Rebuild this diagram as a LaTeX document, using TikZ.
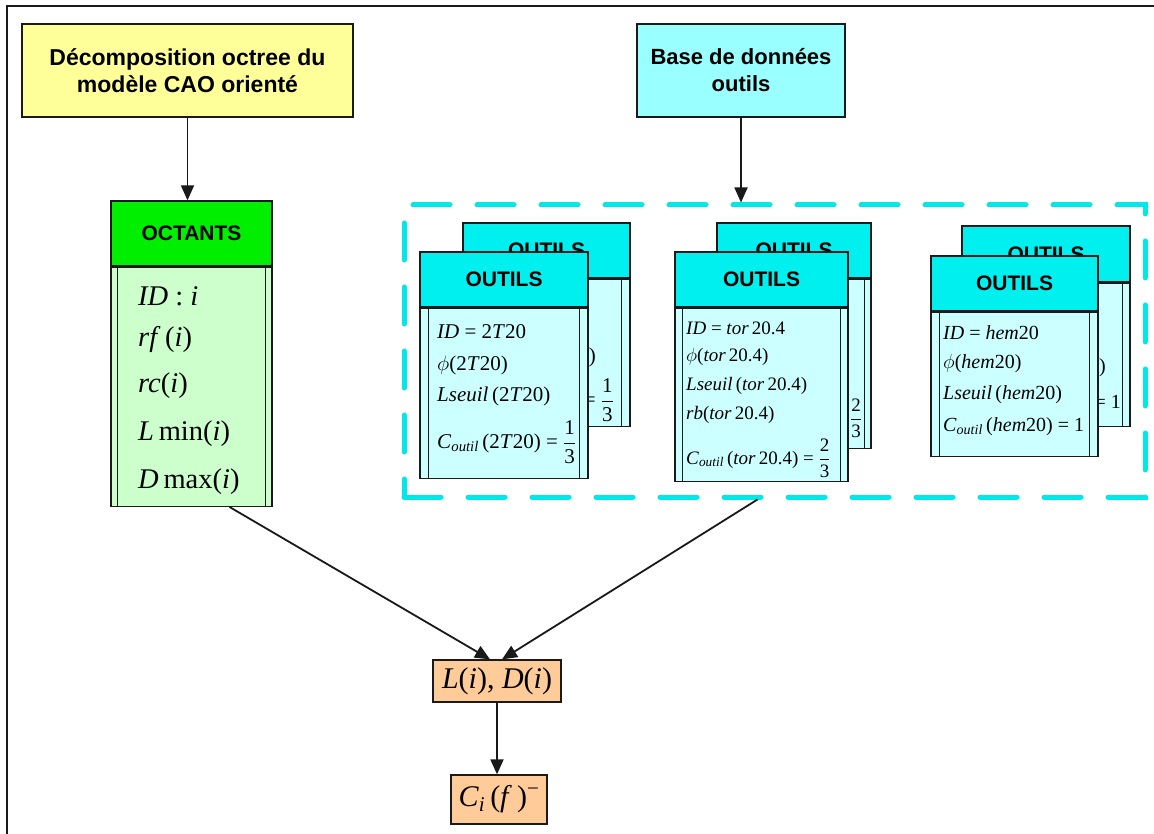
\RequirePackage{fix-cm}
\documentclass[tikz,border=0pt]{standalone}
\usepackage{amsmath}
\usepackage{fontspec}
\newfontfamily\hv{Liberation Sans}
\newfontfamily\tms{Liberation Serif}
\usetikzlibrary{arrows.meta,calc}
\definecolor{yel}{HTML}{FFFF99}
\definecolor{cyb}{HTML}{99FFFF}
\definecolor{octg}{HTML}{00EE00}
\definecolor{octl}{HTML}{CCFFCC}
\definecolor{cyh}{HTML}{00F0F0}
\definecolor{cyl}{HTML}{CCFFFF}
\definecolor{cyd}{HTML}{00E8E8}
\definecolor{org}{HTML}{FFCC99}
\definecolor{bdc}{HTML}{1A1A1A}
\newcommand{\iv}[1]{\textit{#1}}
\newcommand{\fr}[2]{$\dfrac{\text{#1}}{\text{#2}}$}
\newcommand{\sub}[1]{\textsubscript{\itshape #1}}
\newcommand{\mkoutil}[7]{%
  \node[bx,fill=cyh,minimum width=#4pt,minimum height=#5pt,hd] (#1h) at (#2,#3) {OUTILS};
  \node[bx,fill=cyl,minimum width=#4pt,minimum height=#6pt,anchor=north] (#1b) at (#1h.south) {};
  \draw[bdr] ([xshift=#7pt]#1b.north west) -- ([xshift=#7pt]#1b.south west);
  \draw[bdr] ([xshift=-#7pt]#1b.north east) -- ([xshift=-#7pt]#1b.south east);
}
\begin{document}
\begin{tikzpicture}[x=1pt,y=-1pt,
  bx/.style={draw=bdc,line width=1.3pt,inner sep=0pt,rectangle},
  bdr/.style={draw=bdc,line width=1.3pt},
  arr/.style={draw=black!90,line width=1.8pt,-{Triangle[length=15pt,width=13pt]}},
  ttl/.style={font=\hv\bfseries\fontsize{23}{27}\selectfont,align=center},
  ttlb/.style={font=\hv\bfseries\fontsize{22}{27}\selectfont,align=center},
  hd/.style={font=\hv\bfseries\fontsize{21}{24}\selectfont},
  mA/.style={font=\tms\fontsize{28.5}{32}\selectfont,anchor=west,inner sep=0pt},
  mB/.style={font=\tms\fontsize{21}{24}\selectfont,anchor=west,inner sep=0pt},
  mC/.style={font=\tms\fontsize{19}{22}\selectfont,anchor=west,inner sep=0pt},
  mD/.style={font=\tms\fontsize{20}{23}\selectfont,anchor=west,inner sep=0pt},
  mE/.style={font=\tms\fontsize{30}{34}\selectfont},
  ]
\clip (0,0) rectangle (1154,834);
\fill[white] (0,0) rectangle (1154,834);
\draw[line width=2pt,bdc] (7,850) -- (7,6) -- (1170,6);

% top boxes
\node[bx,fill=yel,minimum width=331pt,minimum height=93pt,ttl] (dec) at (187.5,70.5) {Décomposition octree du\\modèle CAO orienté};
\node[bx,fill=cyb,minimum width=208pt,minimum height=93pt,ttlb] (base) at (741,70.5) {Base de données\\outils};

% octants
\node[bx,fill=octg,minimum width=161pt,minimum height=65pt,hd] (octh) at (191.5,233.5) {OCTANTS};
\node[bx,fill=octl,minimum width=161pt,minimum height=239pt,anchor=north] (octb) at (octh.south) {};
\draw[bdr] ([xshift=7pt]octb.north west) -- ([xshift=7pt]octb.south west);
\draw[bdr] ([xshift=-7pt]octb.north east) -- ([xshift=-7pt]octb.south east);
\node[mA] (o1) at (138,296) {\iv{ID} : \iv{i}};
\node[mA] (o2) at (138,340) {\iv{rf}\,(\iv{i})};
\node[mA] (o3) at (138,386) {\iv{rc}(\iv{i})};
\node[mA] (o4) at (138,434) {\iv{L}\,min(\iv{i})};
\node[mA] (o5) at (138,482) {\iv{D}\,max(\iv{i})};

% dashed group
\node[draw=cyd,line width=5pt,dash pattern=on 37pt off 27pt,line cap=round,minimum width=741pt,minimum height=292pt,inner sep=0pt] (grp) at (774.5,351) {};

% group 1
\mkoutil{ba}{546.5}{250.5}{167}{55}{147}{9}
\node[mB,anchor=east] (ba1) at (596,357) {)};
\node[mB,anchor=east] (ba2) at (614,400) {= \fr{1}{3}};
\mkoutil{fa}{504}{279.5}{168}{55}{170}{9}
\node[mB] (fa1) at (437,332) {\iv{ID} = 2\iv{T}20};
\node[mB] (fa2) at (437,365) {$\phi$(2\iv{T}20)};
\node[mB] (fa3) at (437,396) {\iv{Lseuil}\,(2\iv{T}20)};
\node[mB] (fa4) at (437,442) {\iv{C}\sub{outil}\,(2\iv{T}20) = \fr{1}{3}};

% group 2
\mkoutil{bb}{794}{250.5}{154}{55}{169}{7}
\node[mC,anchor=center] (bb1) at (856,418) {\fr{2}{3}};
\mkoutil{fb}{761.5}{279.5}{173}{55}{173}{8}
\node[mC] (fb1) at (686,328) {\iv{ID} = \iv{tor}\,20.4};
\node[mC] (fb2) at (686,357) {$\phi$(\iv{tor}\,20.4)};
\node[mC] (fb3) at (686,386) {\iv{Lseuil}\,(\iv{tor}\,20.4)};
\node[mC] (fb4) at (686,415) {\iv{rb}(\iv{tor}\,20.4)};
\node[mC] (fb5) at (686,458) {\iv{C}\sub{outil}\,(\iv{tor}\,20.4) = \fr{2}{3}};

% group 3
\mkoutil{bc}{1046}{254}{168}{56}{143}{8}
\node[mD,anchor=east] (bc1) at (1106,368) {)};
\node[mD,anchor=east] (bc2) at (1121,402) {= 1};
\mkoutil{fc}{1014.5}{283.5}{167}{55}{144}{9}
\node[mD] (fc1) at (943,333) {\iv{ID} = \iv{hem}20};
\node[mD] (fc2) at (943,364) {$\phi$(\iv{hem}20)};
\node[mD] (fc3) at (943,395) {\iv{Lseuil}\,(\iv{hem}20)};
\node[mD] (fc4) at (943,427) {\iv{C}\sub{outil}\,(\iv{hem}20) = 1};

% bottom boxes
\node[bx,fill=org,minimum width=128pt,minimum height=42pt,mE] (ld) at (497,681) {\iv{L}(\iv{i}), \iv{D}(\iv{i})};
\node[bx,fill=org,minimum width=96pt,minimum height=49pt,mE] (ci) at (499,799.5) {\iv{C}\sub{i}\,(\iv{f}\,)\textsuperscript{−}};

% arrows
\draw[arr] (dec.south) -- (dec.south |- octh.north);
\draw[arr] (base.south) -- (base.south |- grp.north);
\draw[arr] ([xshift=38pt]octb.south) -- ([xshift=-7pt]ld.north);
\draw[arr] ([xshift=-17pt]grp.south) -- ([xshift=5pt]ld.north);
\draw[arr] (ld.south) -- (ld.south |- ci.north);
\end{tikzpicture}
\end{document}
